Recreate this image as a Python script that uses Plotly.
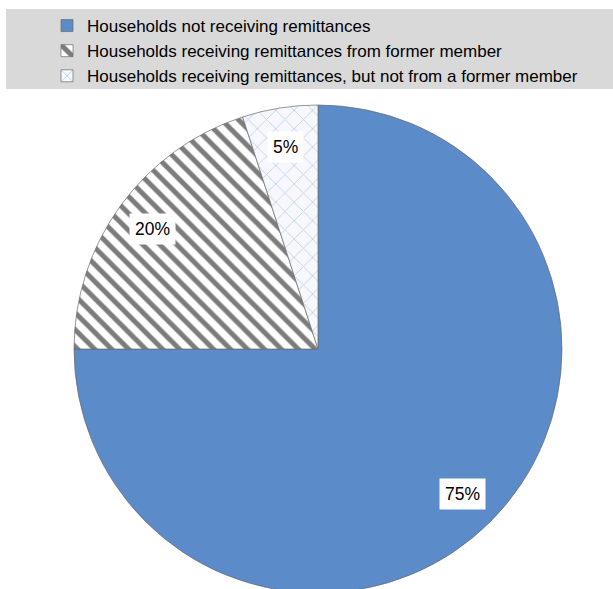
import math
import plotly.graph_objects as go

# Share of households by remittance status (percent)
categories = [
    "Households not receiving remittances",
    "Households receiving remittances from former member",
    "Households receiving remittances, but not from a former member",
]
shares = [75, 20, 5]
label_text = ["75%", "20%", "5%"]

W, H = 613, 594
R_PX = 244
CX_PX, CY_PX = 318, 349          # pie centre, pixels from top-left

dom_x = [(CX_PX - R_PX) / W, (CX_PX + R_PX) / W]
dom_y = [(H - CY_PX - R_PX) / H, (H - CY_PX + R_PX) / H]

FONT = "Liberation Sans Narrow, Arial Narrow, Liberation Sans, Arial, sans-serif"

fig = go.Figure(
    go.Pie(
        labels=categories,
        values=shares,
        sort=False,
        direction="clockwise",
        rotation=0,
        textinfo="none",
        hoverinfo="label+percent",
        domain=dict(x=dom_x, y=dom_y),
        marker=dict(
            colors=["#5b8bc8", "#ffffff", "#f5f8fd"],
            line=dict(color="#6a6a6a", width=0.7),
            pattern=dict(
                shape=["", "\\", "x"],
                fgcolor=["#5b8bc8", "#7c7c7c", "#c4d1ed"],
                bgcolor=["#5b8bc8", "#ffffff", "#f6f8fd"],
                size=[10, 12, 13],
                solidity=[0.2, 0.42, 0.14],
                fillmode="replace",
            ),
        ),
    )
)

# White value boxes placed at the middle angle of each slice
total = sum(shares)
cum = 0
annotations = []
for v, txt in zip(shares, label_text):
    mid = (cum + v / 2) / total * 2 * math.pi
    cum += v
    rf = 0.84 * R_PX
    px = CX_PX + rf * math.sin(mid)
    py = CY_PX - rf * math.cos(mid)
    annotations.append(
        dict(
            x=px / W, y=1 - py / H, xref="paper", yref="paper",
            xanchor="center", yanchor="middle",
            text=txt, showarrow=False,
            font=dict(family=FONT, size=17.5, color="#000000"),
            bgcolor="#ffffff", borderpad=5,
        )
    )

fig.update_layout(
    width=W,
    height=H,
    margin=dict(l=0, r=0, t=0, b=0),
    paper_bgcolor="#ffffff",
    plot_bgcolor="#ffffff",
    showlegend=True,
    legend=dict(
        x=47 / W, y=1 - 8 / H, xanchor="left", yanchor="top",
        bgcolor="rgba(0,0,0,0)",
        font=dict(family=FONT, size=17, color="#000000"),
        traceorder="normal",
        tracegroupgap=0,
    ),
    shapes=[
        dict(
            type="rect", xref="paper", yref="paper", layer="below",
            x0=6 / W, x1=1, y0=1 - 89 / H, y1=1 - 9 / H,
            fillcolor="#d9d9d9", line=dict(width=0),
        )
    ],
    annotations=annotations,
)

fig.write_html("out.html")
